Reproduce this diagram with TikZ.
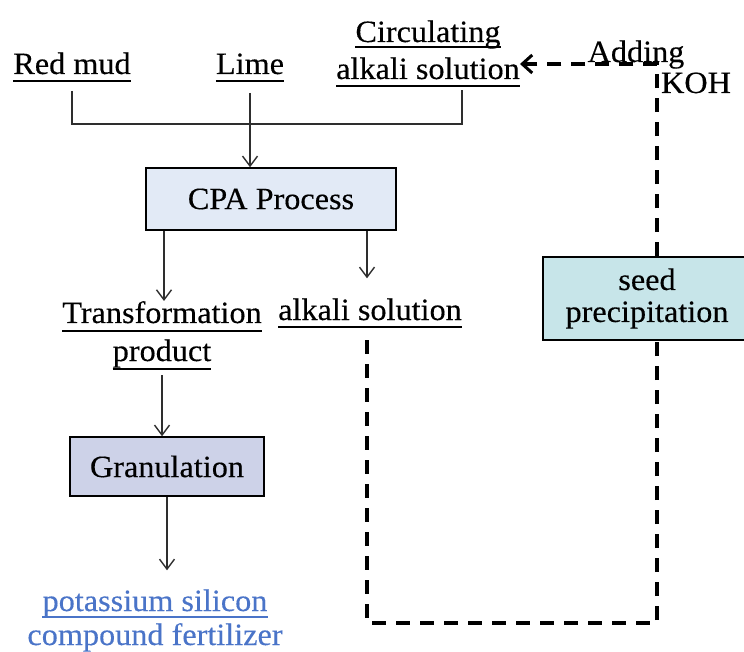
\documentclass[tikz,border=0pt]{standalone}
\usepackage{fontspec}
\setmainfont{Liberation Serif}[FakeStretch=1.04,FakeBold=0.3]
\usetikzlibrary{arrows.meta}
\definecolor{cpafill}{HTML}{E2EAF6}
\definecolor{granfill}{HTML}{CDD2E8}
\definecolor{seedfill}{HTML}{C7E5E9}
\definecolor{fertblue}{HTML}{4A74C8}
\definecolor{linegray}{HTML}{2E2E2E}
\begin{document}
\begin{tikzpicture}[x=1pt,y=-1pt,
  every node/.style={font=\fontsize{31pt}{36pt}\selectfont},
  txt/.style={inner sep=0pt, anchor=base},
  ul/.style={line width=1.4pt, draw=black},
  procbox/.style={draw=black, line width=1.5pt, inner sep=0pt, align=center},
  conn/.style={line width=1.4pt, draw=linegray},
  arr/.style={conn, -{Straight Barb[length=10pt,width=15pt,line width=1.4pt]}},
  dashline/.style={line width=3.5pt, draw=black, dash pattern=on 14pt off 10pt},
  ]
\useasboundingbox (0,0) rectangle (744,652);

% top inputs
\node[txt] (redmud) at (72,74) {Red mud};
\node[txt] (lime) at (250,74) {Lime};
\node[txt] (circ1) at (428,42) {Circulating};
\node[txt] (circ2) at (428,79) {alkali solution};
\draw[ul] ([yshift=-7pt]redmud.base west) -- ([yshift=-7pt]redmud.base east);
\draw[ul] ([yshift=-7pt]lime.base west) -- ([yshift=-7pt]lime.base east);
\draw[ul] ([yshift=-5pt]circ1.base west) -- ([yshift=-5pt]circ1.base east);
\draw[ul] ([yshift=-7pt]circ2.base west) -- ([yshift=-7pt]circ2.base east);

% CPA
\node[procbox, fill=cpafill, minimum width=250pt, minimum height=62pt] (cpa) at (271,199) {CPA Process};

\coordinate (j) at (251,124);
\draw[conn] ([yshift=-17pt]redmud.base) -- (redmud.base |- j) -- ([xshift=34pt]circ2.base |- j) -- ([xshift=34pt,yshift=-11pt]circ2.base);
\draw[arr] ([yshift=-19pt]lime.base) -- (lime.base |- cpa.north);

% outputs of CPA
\node[txt] (trans) at (162,323) {Transformation};
\node[txt] (prod) at (162,361) {product};
\node[txt] (alk) at (370,320) {alkali solution};
\draw[ul] ([yshift=-8pt]trans.base west) -- ([yshift=-8pt]trans.base east);
\draw[ul] ([yshift=-8pt]prod.base west) -- ([yshift=-8pt]prod.base east);
\draw[ul] ([yshift=-7pt]alk.base west) -- ([yshift=-7pt]alk.base east);

\draw[arr] ([xshift=2pt]cpa.south -| trans.north) -- ([xshift=2pt]trans.north);
\draw[arr] ([xshift=-3pt]cpa.south -| alk.north) -- ([xshift=-3pt,yshift=20pt]alk.north);

% granulation
\node[procbox, fill=granfill, minimum width=194pt, minimum height=59pt] (gran) at (167,466.5) {Granulation};
\draw[arr] ([yshift=-14pt]prod.base) -- (prod.base |- gran.north);

\node[txt, text=fertblue] (fert1) at (155,611) {potassium silicon};
\node[txt, text=fertblue] (fert2) at (155,645) {compound fertilizer};
\draw[ul, draw=fertblue] ([yshift=-6pt]fert1.base west) -- ([yshift=-6pt]fert1.base east);
\draw[arr] (gran.south) -- ([yshift=19pt]gran.south |- fert1.north);

% seed precipitation loop
\node[procbox, fill=seedfill, minimum width=208pt, minimum height=83pt] (seed) at (647,298.5) {seed\\[-4pt]precipitation};

\coordinate (bl) at (367,623);
\coordinate (tr) at (657,64);
\draw[dashline] ([xshift=-3pt,yshift=-20pt]alk.base) -- (bl) -| ([xshift=10pt]seed.south);
\draw[dashline, -{Straight Barb[length=10pt,width=18pt,line width=3pt]}] ([xshift=10pt]seed.north) -- (tr) -- (circ2.east |- tr);

\node[txt] (adding) at (636,62) {Adding};
\node[txt] (koh) at (696,93) {KOH};
\end{tikzpicture}
\end{document}
